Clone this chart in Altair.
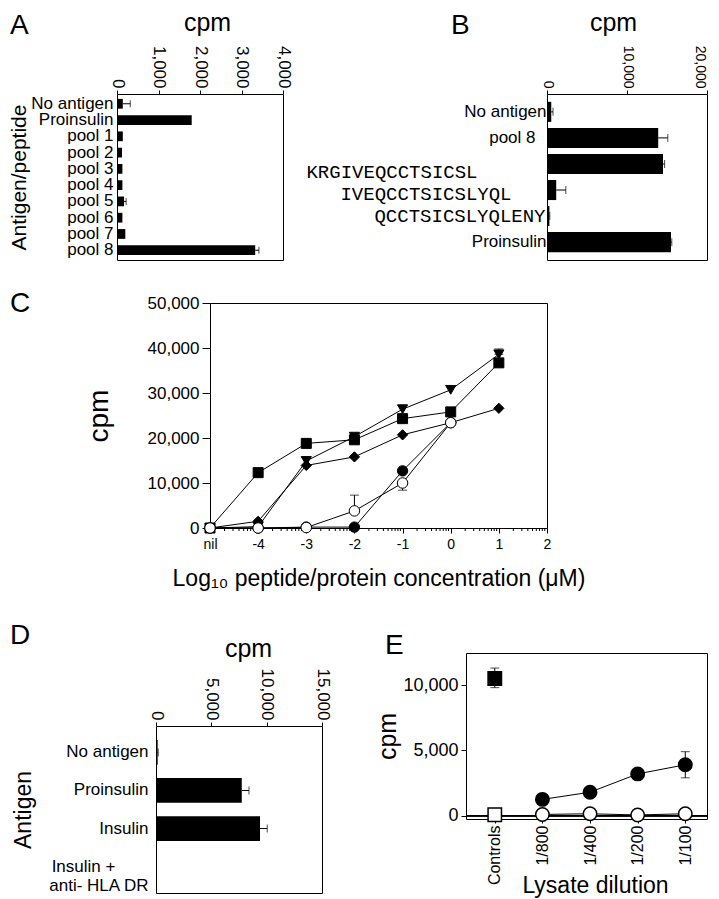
import math
import altair as alt
import pandas as pd

SANS = "Liberation Sans"
MONO = "Liberation Mono"
NBSP = "\u00a0"
ZWSP = "\u200b"

# ---------------- data ----------------
# Panel A
a_antigens = ["No antigen", "Proinsulin", "pool 1", "pool 2", "pool 3", "pool 4",
              "pool 5", "pool 6", "pool 7", "pool 8"]
a_cpm = [140, 1800, 140, 120, 130, 130, 170, 130, 200, 3330]
a_err = [320, 1800, 140, 120, 130, 130, 220, 130, 200, 3420]

# Panel B
b_antigens = ["No antigen", "pool 8", "KRGIVEQCCTSICSL", "IVEQCCTSICSLYQL",
              "QCCTSICSLYQLENY", "Proinsulin"]
b_cpm = [530, 13900, 14500, 1150, 300, 15500]
b_err = [750, 15100, 14700, 2350, 350, 15600]
b_peptides = ["KRGIVEQCCTSICSL", "IVEQCCTSICSLYQL", "QCCTSICSLYQLENY"]

# Panel C  (x = log10 concentration, -5 stands for "nil")
c_series = ["square", "triangle", "diamond", "circle", "open"]
c_x = [-5, -4, -3, -2, -1, 0, 1]
c_square = [0, 12300, 18800, 19600, 24300, 25800, 36700]
c_triangle = [0, 300, 14900, 20300, 26400, 30700, 38600]
c_diamond = [0, 1500, 13900, 15800, 20700, 23400, 26600]
c_circle = [0, 0, 200, 200, 12700, 23400]
c_open = [0, 0, 100, 3800, 10000, 23400]
c_err_series = ["triangle", "open", "open"]
c_err_x = [1, -2, -1]
c_err_lo = [38600, 3800, 8400]
c_err_hi = [39800, 7300, 10000]

# Panel D
d_antigens = ["No antigen", "Proinsulin", "Insulin", "Insulin + anti- HLA DR"]
d_label_lines = ["Insulin +", "anti- HLA DR"]
d_cpm = [150, 7750, 9400, 80]
d_err = [200, 8400, 10050, 80]

# Panel E
e_dilutions = ["Controls", "1/800", "1/400", "1/200", "1/100"]
e_series = ["pos_control", "neg_control", "lysate", "lysate_neg"]
e_pos_control = 10500
e_pos_control_err = [9800, 11300]
e_neg_control = 80
e_lysate = [1250, 1800, 3200, 3900]
e_lysate_neg = [100, 150, 60, 150]
e_lysate_err = [2900, 4900]


# ---------------- helpers ----------------
def letter(t, dx, offset):
    return alt.TitleParams(t, anchor="start", frame="group", dx=dx, offset=offset,
                           fontSize=28, font=SANS, fontWeight="normal", color="black")


def spacer(w, h):
    return alt.Chart(pd.DataFrame({"s": [0]})).mark_point(opacity=0).properties(
        width=w, height=h, view=alt.ViewBackground(stroke="transparent"))


BOX = alt.ViewBackground(stroke="black", strokeWidth=1)
FMT = ",.0f"

# ---------------- Panel A ----------------
dfA = pd.DataFrame({"antigen": a_antigens, "cpm": a_cpm, "err": a_err})
yA = alt.Y("antigen:N", sort=a_antigens,
           scale=alt.Scale(paddingInner=0.4, paddingOuter=0.3),
           axis=alt.Axis(labelFontSize=17, labelPadding=4, ticks=False, domain=False,
                         title="Antigen/peptide", titleFontSize=21, titlePadding=1))
xA = alt.X("cpm:Q", scale=alt.Scale(domain=[0, 4000], nice=False),
           axis=alt.Axis(orient="top", values=[0, 1000, 2000, 3000, 4000], format=FMT,
                         labelAngle=90, labelAlign="right", labelBaseline="middle",
                         labelFontSize=17, labelPadding=2, tickSize=4, domain=False,
                         title="cpm", titleFontSize=25, titlePadding=10, titleX=90))
baseA = alt.Chart(dfA)
barsA = baseA.mark_bar(color="black").encode(x=xA, y=yA)
errA = baseA.transform_filter("datum.err > datum.cpm").mark_rule(color="black").encode(
    x="cpm:Q", x2="err:Q", y=alt.Y("antigen:N", sort=a_antigens))
capA = baseA.transform_filter("datum.err > datum.cpm").mark_tick(
    color="black", size=7, thickness=1, orient="vertical").encode(
    x="err:Q", y=alt.Y("antigen:N", sort=a_antigens))
A = alt.layer(barsA, errA, capA).properties(width=166, height=166, view=BOX,
                                            title=letter("A", -107, -30))

# ---------------- Panel B ----------------
dfB = pd.DataFrame({"antigen": b_antigens, "cpm": b_cpm, "err": b_err})
pep_test = "indexof([" + ",".join(f"'{p}'" for p in b_peptides) + "], datum.value) >= 0"
yB = alt.Y("antigen:N", sort=b_antigens, title=None,
           scale=alt.Scale(paddingInner=0.23, paddingOuter=0.3),
           axis=alt.Axis(labelFont={"condition": {"test": pep_test, "value": MONO}, "value": SANS},
                         labelFontSize={"condition": {"test": pep_test, "value": 19}, "value": 17},
                         labelOffset={"condition": [
                             {"test": f"datum.value == '{b_peptides[0]}'", "value": 8},
                             {"test": f"datum.value == '{b_peptides[1]}'", "value": 4}],
                             "value": 0},
                         labelPadding={"condition": [
                             {"test": f"datum.value == '{b_peptides[0]}'", "value": 70},
                             {"test": f"datum.value == '{b_peptides[1]}'", "value": 36},
                             {"test": f"datum.value == '{b_peptides[2]}'", "value": 2},
                             {"test": "datum.value == 'pool 8'", "value": 12}],
                             "value": 1},
                         ticks=False, domain=False))
xB = alt.X("cpm:Q", scale=alt.Scale(domain=[0, 20000], nice=False),
           axis=alt.Axis(orient="top", values=[0, 10000, 20000], format=FMT,
                         labelAngle=90, labelAlign="right", labelBaseline="middle",
                         labelOffset={"condition": {"test": "datum.value == 20000", "value": -8},
                                      "value": 0},
                         labelFontSize=14, labelPadding=2, tickSize=4, domain=False,
                         title="cpm", titleFontSize=25, titlePadding=10, titleX=66))
baseB = alt.Chart(dfB)
barsB = baseB.mark_bar(color="black").encode(x=xB, y=yB)
errB = baseB.transform_filter("datum.err > datum.cpm").mark_rule(color="black").encode(
    x="cpm:Q", x2="err:Q", y=alt.Y("antigen:N", sort=b_antigens))
capB = baseB.transform_filter("datum.err > datum.cpm").mark_tick(
    color="black", size=8, thickness=1, orient="vertical").encode(
    x="err:Q", y=alt.Y("antigen:N", sort=b_antigens))
B = alt.layer(barsB, errB, capB).properties(width=160, height=166, view=BOX,
                                            title=letter("B", -96, -30))

# ---------------- Panel C ----------------
rows = []
for name, ys in zip(c_series, [c_square, c_triangle, c_diamond, c_circle, c_open]):
    for i, v in enumerate(ys):
        rows.append({"series": name, "x": c_x[i], "cpm": v})
dfC = pd.DataFrame(rows)
dfCe = pd.DataFrame({"series": c_err_series, "x": c_err_x, "lo": c_err_lo, "hi": c_err_hi})

c_major = list(range(-5, 3))
c_minor = [round(k + math.log10(m), 4) for k in range(-5, 2) for m in range(2, 10)]
dfCm = pd.DataFrame({"m": c_minor})
C_W, C_H = 337, 225
xC_scale = alt.Scale(domain=[-5, 2], nice=False)
yC_scale = alt.Scale(domain=[0, 50000], nice=False)
xC = alt.X("x:Q", scale=xC_scale,
           axis=alt.Axis(values=c_major, labelOverlap=False, labelFlush=False, grid=False,
                         labelExpr="datum.value == -5 ? 'nil' : '' + datum.value",
                         tickSize=5, labelFontSize=14, labelPadding=4, domain=False,
                         title="Log\u2081\u2080 peptide/protein concentration (\u03bcM)",
                         titleFontSize=23, titlePadding=16))
yC = alt.Y("cpm:Q", scale=yC_scale,
           axis=alt.Axis(values=[0, 10000, 20000, 30000, 40000, 50000], format=FMT,
                         labelFontSize=17, labelPadding=3, tickSize=8, domain=False,
                         title="cpm", titleFontSize=28, titlePadding=34))
linesC = alt.Chart(dfC).mark_line(color="black", strokeWidth=1).encode(
    x=xC, y=yC, detail="series:N", order="x:Q")
minorC = alt.Chart(dfCm).mark_rule(color="black", strokeWidth=1).encode(
    x=alt.X("m:Q", scale=xC_scale), y=alt.value(C_H), y2=alt.value(C_H + 3))
errC = alt.Chart(dfCe).mark_rule(color="black", strokeWidth=1).encode(
    x="x:Q", y="lo:Q", y2="hi:Q")
capCh = alt.Chart(dfCe).mark_tick(color="black", size=9, thickness=1, orient="horizontal").encode(
    x="x:Q", y="hi:Q")
capCl = alt.Chart(dfCe).mark_tick(color="black", size=9, thickness=1, orient="horizontal").encode(
    x="x:Q", y="lo:Q")
ptsC = alt.Chart(dfC).mark_point(filled=True, opacity=1, stroke="black", strokeWidth=1).encode(
    x="x:Q", y="cpm:Q",
    shape=alt.Shape("series:N", scale=alt.Scale(domain=c_series,
                    range=["square", "triangle-down", "diamond", "circle", "circle"]), legend=None),
    fill=alt.Fill("series:N", scale=alt.Scale(domain=c_series,
                  range=["black", "black", "black", "black", "white"]), legend=None),
    size=alt.Size("series:N", scale=alt.Scale(domain=c_series,
                  range=[100, 110, 80, 90, 100]), legend=None))
C = alt.layer(linesC, minorC, errC, capCh, capCl, ptsC).properties(
    width=C_W, height=C_H, view=BOX, title=letter("C", -200, -24))

# ---------------- Panel D ----------------
dfD = pd.DataFrame({"antigen": d_antigens, "cpm": d_cpm, "err": d_err})
d_expr = (f"datum.value == '{d_antigens[3]}' ? "
          f"['{d_label_lines[0]}{NBSP * 7}{ZWSP}', '{d_label_lines[1]}'] : datum.label")
yD = alt.Y("antigen:N", sort=d_antigens,
           scale=alt.Scale(paddingInner=0.35, paddingOuter=0.37),
           axis=alt.Axis(labelExpr=d_expr, labelFontSize=17, labelPadding=8, labelLineHeight=19,
                         ticks=False, domain=False,
                         title="Antigen", titleFontSize=23, titlePadding=12))
xD = alt.X("cpm:Q", scale=alt.Scale(domain=[0, 15000], nice=False),
           axis=alt.Axis(orient="top", values=[0, 5000, 10000, 15000], format=FMT,
                         labelAngle=90, labelAlign="right", labelBaseline="middle",
                         labelFontSize=17, labelPadding=2, tickSize=4, domain=False,
                         title="cpm", titleFontSize=25, titlePadding=7, titleX=92))
baseD = alt.Chart(dfD)
barsD = baseD.mark_bar(color="black").encode(x=xD, y=yD)
errD = baseD.transform_filter("datum.err > datum.cpm").mark_rule(color="black").encode(
    x="cpm:Q", x2="err:Q", y=alt.Y("antigen:N", sort=d_antigens))
capD = baseD.transform_filter("datum.err > datum.cpm").mark_tick(
    color="black", size=8, thickness=1, orient="vertical").encode(
    x="err:Q", y=alt.Y("antigen:N", sort=d_antigens))
D = alt.layer(barsD, errD, capD).properties(width=166, height=167, view=BOX,
                                            title=letter("D", -146, -14))

# ---------------- Panel E ----------------
rowsE = [{"series": "pos_control", "dilution": e_dilutions[0], "cpm": e_pos_control, "order": 0},
         {"series": "neg_control", "dilution": e_dilutions[0], "cpm": e_neg_control, "order": 0}]
for i, d in enumerate(e_dilutions[1:]):
    rowsE.append({"series": "lysate", "dilution": d, "cpm": e_lysate[i], "order": i + 1})
    rowsE.append({"series": "lysate_neg", "dilution": d, "cpm": e_lysate_neg[i], "order": i + 1})
dfE = pd.DataFrame(rowsE)
dfEe = pd.DataFrame({"dilution": [e_dilutions[0], e_dilutions[-1]],
                     "lo": [e_pos_control_err[0], e_lysate_err[0]],
                     "hi": [e_pos_control_err[1], e_lysate_err[1]]})
xE = alt.X("dilution:N", sort=e_dilutions,
           scale=alt.Scale(type="point", padding=0.53, align=0.57),
           axis=alt.Axis(labelAngle=270, labelAlign="right", labelBaseline="middle",
                         labelFontSize=16, labelPadding=2, tickSize=4, domain=False,
                         title="Lysate dilution", titleFontSize=23, titlePadding=-10, titleX=129))
yE = alt.Y("cpm:Q", scale=alt.Scale(domain=[-250, 12450], nice=False),
           axis=alt.Axis(values=[0, 5000, 10000], format=FMT, labelFontSize=18,
                         labelPadding=3, tickSize=5, domain=False,
                         title="cpm", titleFontSize=25, titlePadding=2))
zeroE = alt.Chart(dfE).mark_rule(color="black", strokeWidth=1).encode(y=alt.datum(0))
linesE = alt.Chart(dfE).transform_filter("datum.order > 0").mark_line(
    color="black", strokeWidth=1).encode(x=xE, y=yE, detail="series:N", order="order:Q")
errE = alt.Chart(dfEe).mark_rule(color="black").encode(
    x=alt.X("dilution:N", sort=e_dilutions), y="lo:Q", y2="hi:Q")
capEh = alt.Chart(dfEe).mark_tick(color="black", size=9, thickness=1, orient="horizontal").encode(
    x=alt.X("dilution:N", sort=e_dilutions), y="hi:Q")
capEl = alt.Chart(dfEe).mark_tick(color="black", size=9, thickness=1, orient="horizontal").encode(
    x=alt.X("dilution:N", sort=e_dilutions), y="lo:Q")
ptsE = alt.Chart(dfE).mark_point(filled=True, opacity=1, stroke="black", strokeWidth=1.5).encode(
    x=alt.X("dilution:N", sort=e_dilutions), y="cpm:Q",
    shape=alt.Shape("series:N", scale=alt.Scale(domain=e_series,
                    range=["square", "square", "circle", "circle"]), legend=None),
    fill=alt.Fill("series:N", scale=alt.Scale(domain=e_series,
                  range=["black", "white", "black", "white"]), legend=None),
    size=alt.Size("series:N", scale=alt.Scale(domain=e_series,
                  range=[180, 180, 150, 150]), legend=None))
E = alt.layer(linesE, zeroE, errE, capEh, capEl, ptsE).properties(
    width=241, height=166, view=BOX, title=letter("E", -81, -7))

# ---------------- layout ----------------
# with flush bounds, nested concat groups count as zero size, so spacings include the panel sizes
IND = dict(shape="independent", fill="independent", size="independent")
row1 = alt.hconcat(A, B, spacing=264, bounds="flush")
rowC = alt.hconcat(spacer(93, 225), C, spacing=0, bounds="flush")
colD = alt.vconcat(spacer(166, 73), D, spacing=0, bounds="flush")
row3 = alt.hconcat(spacer(39, 10), colD, spacer(310, 10), E, spacing=0,
                   bounds="flush").resolve_scale(**IND)
lower = alt.vconcat(rowC, row3, spacing=225 + 125, bounds="flush").resolve_scale(**IND)

chart = alt.vconcat(row1, lower, spacing=166 + 43, bounds="flush").resolve_scale(**IND).properties(
    padding={"top": 1, "left": 0, "right": 0, "bottom": 0}
).configure(font=SANS).configure_axis(
    labelFont=SANS, titleFont=SANS, labelColor="black", titleColor="black",
    domainColor="black", tickColor="black", grid=False, titleFontWeight="normal"
).configure_view(stroke="black", strokeWidth=1).configure_title(
    font=SANS, fontWeight="normal", color="black")

chart.save("out.html", embed_options={"renderer": "svg", "actions": False})
